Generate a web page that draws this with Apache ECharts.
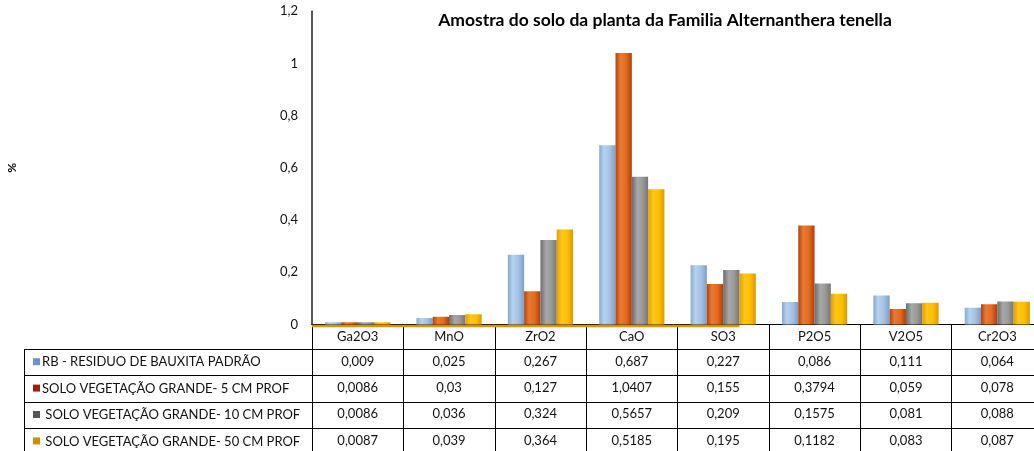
<!DOCTYPE html>
<html>
<head>
<meta charset="utf-8">
<script src="https://cdn.jsdelivr.net/npm/echarts@6/dist/echarts.min.js"></script>
<style>
  html, body { margin: 0; padding: 0; background: #fff; }
  #main { width: 1034px; height: 451px; }
</style>
</head>
<body>
<div id="main"></div>
<script>
// data
const categories = ['Ga2O3', 'MnO', 'ZrO2', 'CaO', 'SO3', 'P2O5', 'V2O5', 'Cr2O3'];
const seriesNames = [
  'RB - RESIDUO DE BAUXITA PADRÃO',
  'SOLO VEGETAÇÃO GRANDE- 5 CM PROF',
  ' SOLO VEGETAÇÃO GRANDE- 10 CM PROF',
  ' SOLO VEGETAÇÃO GRANDE- 50 CM PROF'
];
const rbPadrao = [0.009, 0.025, 0.267, 0.687, 0.227, 0.086, 0.111, 0.064];
const solo5cm = [0.0086, 0.03, 0.127, 1.0407, 0.155, 0.3794, 0.059, 0.078];
const solo10cm = [0.0086, 0.036, 0.324, 0.5657, 0.209, 0.1575, 0.081, 0.088];
const solo50cm = [0.0087, 0.039, 0.364, 0.5185, 0.195, 0.1182, 0.083, 0.087];
const yMin = 0, yMax = 1.2, yStep = 0.2;

const seriesData = [rbPadrao, solo5cm, solo10cm, solo50cm];

// layout
const GRID = { left: 312, top: 11.3, width: 731, height: 313.2 };
const zeroY = GRID.top + GRID.height;
const HEADER_H = 24.5;
const ROW_H = 26.4;
const BAR_W = 16.3;
const FONT = 'Lato, "Open Sans", sans-serif';

const keyColors = ['#6b95c4', '#a0200f', '#555555', '#d08f00'];
const barStops = [
  [['#86a9d2', 0], ['#b7d2ee', 0.3], ['#a3c2e4', 0.65], ['#7c9fc8', 1]],
  [['#b3420f', 0], ['#e77a34', 0.3], ['#e36b1f', 0.65], ['#ad3e0c', 1]],
  [['#6c6c6c', 0], ['#a8a8a8', 0.35], ['#9a9a9a', 0.65], ['#767676', 1]],
  [['#e0a000', 0], ['#ffc61a', 0.3], ['#ffc000', 0.65], ['#d89a00', 1]]
];

const fmt = v => String(v).replace('.', ',');
const grad = stops => new echarts.graphic.LinearGradient(0, 0, 1, 0,
  stops.map(s => ({ offset: s[1], color: s[0] })));

const labelStyle = { color: '#111', fontSize: 13, fontFamily: FONT, margin: 6, interval: 0 };
const tickStyle = len => ({ show: true, interval: 0, alignWithLabel: false, length: len, lineStyle: { color: '#000', width: 1 } });

const chart = echarts.init(document.getElementById('main'));

const option = {
  animation: false,
  grid: {
    left: GRID.left, top: GRID.top, width: GRID.width, height: GRID.height,
    containLabel: false, outerBoundsMode: 'none'
  },
  xAxis: [
    {
      type: 'category',
      data: categories,
      axisLine: { lineStyle: { color: '#000', width: 1 } },
      axisTick: tickStyle(HEADER_H),
      axisLabel: labelStyle
    }
  ].concat(seriesData.map((d, i) => ({
    type: 'category',
    position: 'bottom',
    offset: HEADER_H + i * ROW_H,
    data: d.map(fmt),
    axisLine: { lineStyle: { color: '#000', width: 1 } },
    axisTick: tickStyle(ROW_H),
    axisLabel: labelStyle
  }))),
  yAxis: {
    type: 'value',
    min: yMin,
    max: yMax,
    interval: yStep,
    name: '%',
    nameLocation: 'middle',
    nameGap: 294,
    nameRotate: 90,
    nameTextStyle: { color: '#000', fontSize: 12, fontWeight: 'bold', fontFamily: FONT },
    axisLine: { show: true, lineStyle: { color: '#222', width: 1.5 } },
    axisTick: { show: false },
    splitLine: { show: false },
    axisLabel: { color: '#111', fontSize: 13, fontFamily: FONT, margin: 14, formatter: fmt }
  },
  series: seriesNames.map((name, i) => ({
    type: 'bar',
    name: name,
    data: seriesData[i],
    barWidth: BAR_W,
    barGap: '0%',
    itemStyle: { color: grad(barStops[i]) }
  }))
};

chart.setOption(option);

// title, legend column of the data table and the base line artefact
const graphics = [];
graphics.push({
  type: 'text',
  x: 665, y: 20,
  style: {
    text: 'Amostra do solo da planta da Familia Alternanthera tenella',
    font: 'bold 17.5px ' + FONT, fill: '#000', align: 'center', verticalAlign: 'middle'
  }
});
const tableTop = zeroY + HEADER_H;
const tableLeft = 24;
for (let i = 0; i < 5; i++) {
  const y = Math.round(tableTop + i * ROW_H) + 0.5;
  graphics.push({ type: 'line', shape: { x1: tableLeft, y1: y, x2: GRID.left, y2: y }, style: { stroke: '#000', lineWidth: 1 } });
}
graphics.push({ type: 'line', shape: { x1: tableLeft + 0.5, y1: tableTop, x2: tableLeft + 0.5, y2: tableTop + 5 * ROW_H }, style: { stroke: '#000', lineWidth: 1 } });
seriesNames.forEach((name, i) => {
  const cy = tableTop + (i + 0.5) * ROW_H;
  graphics.push({ type: 'rect', shape: { x: 33, y: cy - 4, width: 7, height: 7 }, style: { fill: keyColors[i] } });
  graphics.push({
    type: 'text', x: 42, y: cy,
    style: { text: name, font: '13px ' + FONT, fill: '#111', align: 'left', verticalAlign: 'middle' }
  });
});
const so3X = chart.convertToPixel({ xAxisIndex: 0 }, 'SO3');
graphics.push({
  type: 'line', z: 100,
  shape: { x1: GRID.left, y1: zeroY + 1.5, x2: so3X + BAR_W, y2: zeroY + 1.5 },
  style: { stroke: '#d8940f', lineWidth: 2.5 }
});
chart.setOption({ graphic: graphics });
</script>
</body>
</html>
